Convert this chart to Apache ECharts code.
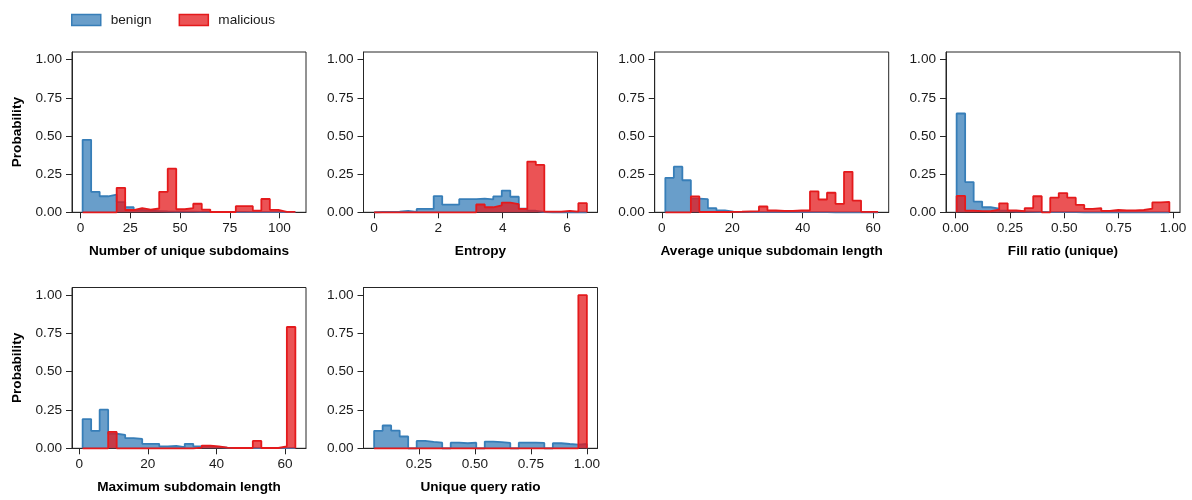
<!DOCTYPE html>
<html>
<head>
<meta charset="utf-8">
<script src="https://cdn.jsdelivr.net/npm/echarts@6/dist/echarts.min.js"></script>
<style>
html,body{margin:0;padding:0;background:#ffffff;}
#chart{width:1192px;height:500px;}
</style>
</head>
<body>
<div id="chart"></div>
<script>
// ---------------- data ----------------
const seriesNames = ['benign', 'malicious'];
const xTitles = [
  'Number of unique subdomains',
  'Entropy',
  'Average unique subdomain length',
  'Fill ratio (unique)',
  'Maximum subdomain length',
  'Unique query ratio'
];
// histogram range (first edge, last edge) per panel; 25 equal bins each
const binRanges = [[1, 108], [0, 6.62], [1, 61.4], [0.005, 0.983], [1, 63], [0.05, 1.0]];
const xTickValues = [
  [0, 25, 50, 75, 100],
  [0, 2, 4, 6],
  [0, 20, 40, 60],
  [0, 0.25, 0.5, 0.75, 1],
  [0, 20, 40, 60],
  [0.25, 0.5, 0.75, 1]
];
const xTickDecimals = [0, 0, 0, 2, 0, 2];
const yTickValues = [0, 0.25, 0.5, 0.75, 1];

const benignUniqueSubdomains = [0.475,0.134,0.105,0.116,0.067,0.033,0.015,0.010,0.008,0.006,0.005,0.004,0.004,0.003,0.003,0.002,0.002,0.002,0.002,0.001,0.001,0.001,0.001,0.001,0.001];
const maliciousUniqueSubdomains = [0,0,0,0,0.160,0.015,0.027,0.018,0.025,0.134,0.286,0.020,0.027,0.056,0.018,0.002,0.002,0.002,0.040,0.040,0.011,0.087,0.016,0.003,0.003];

const benignEntropy = [0.002,0.002,0.004,0.009,0.003,0.022,0.022,0.106,0.050,0.050,0.086,0.086,0.090,0.084,0.104,0.142,0.102,0.024,0.010,0.002,0,0,0,0,0];
const maliciousEntropy = [0,0,0,0,0,0,0,0,0,0,0,0,0.051,0.033,0.046,0.064,0.053,0.022,0.332,0.310,0.004,0.004,0.009,0.004,0.060];

const benignAvgLength = [0.226,0.299,0.210,0.090,0.086,0.027,0.013,0.005,0.003,0.002,0.001,0.001,0.001,0.001,0.001,0.001,0.001,0.001,0.001,0,0,0,0,0,0];
const maliciousAvgLength = [0,0,0,0.104,0.002,0.002,0.002,0.003,0.004,0.006,0.008,0.038,0.013,0.009,0.009,0.013,0.013,0.137,0.084,0.128,0.055,0.265,0.077,0.003,0.003];

const benignFillRatio = [0.647,0.198,0.070,0.033,0.024,0.010,0.005,0.004,0.003,0.002,0.001,0.001,0.001,0.001,0,0,0,0,0,0,0,0,0,0,0];
const maliciousFillRatio = [0.107,0.011,0.008,0.007,0.017,0.059,0.013,0.007,0.028,0.105,0,0.096,0.126,0.096,0.048,0.022,0.028,0.009,0.015,0.013,0.012,0.015,0.024,0.065,0.068];

const benignMaxLength = [0.191,0.114,0.252,0.095,0.088,0.066,0.061,0.029,0.029,0.013,0.015,0.007,0.029,0.013,0.012,0.008,0.004,0.003,0.002,0.002,0.001,0.001,0.001,0.001,0.002];
const maliciousMaxLength = [0,0,0,0.107,0,0,0,0,0,0,0,0,0,0.004,0.018,0.013,0.004,0.002,0.002,0.002,0.048,0.002,0.002,0.013,0.792];

const benignQueryRatio = [0.114,0.149,0.116,0.077,0,0.048,0.042,0.037,0,0.037,0.033,0.037,0,0.044,0.040,0.035,0,0.037,0.037,0.035,0,0.033,0.028,0.024,0.028];
const maliciousQueryRatio = [0,0,0,0,0,0,0,0,0,0,0,0,0,0,0,0,0,0,0,0,0,0,0,0,1.0];

const benignPanels = [benignUniqueSubdomains, benignEntropy, benignAvgLength, benignFillRatio, benignMaxLength, benignQueryRatio];
const maliciousPanels = [maliciousUniqueSubdomains, maliciousEntropy, maliciousAvgLength, maliciousFillRatio, maliciousMaxLength, maliciousQueryRatio];

// ---------------- layout / style ----------------
const FONT = '"Liberation Sans", Arial, Helvetica, sans-serif';
const TEXT = '#1a1a1a';
const SPINE = '#262626';
const FS = 13.6;
const BLUE = '#377eb8', BLUE_FILL = 'rgba(55,126,184,0.75)';
const RED = '#e41a1c', RED_FILL = 'rgba(228,26,28,0.75)';
const gridLefts = [72, 363.5, 654.7, 946, 72, 363.5];
const gridTops = [52, 52, 52, 52, 287.5, 287.5];
const gridHeights = [160.3, 160.3, 160.3, 160.3, 160.8, 160.8];
const GRID_W = 234;

function stepPoints(vals, lo, hi) {
  const w = (hi - lo) / vals.length;
  const pts = [[lo, 0]];
  vals.forEach((v, i) => { pts.push([lo + i * w, v]); pts.push([lo + (i + 1) * w, v]); });
  pts.push([hi, 0]);
  return pts;
}

const grids = [], xAxes = [], yAxes = [], series = [];
for (let i = 0; i < 6; i++) {
  const [lo, hi] = binRanges[i];
  const pad = 0.05 * (hi - lo);
  grids.push({
    left: gridLefts[i], top: gridTops[i], width: GRID_W, height: gridHeights[i],
    show: true, borderColor: SPINE, borderWidth: 1, containLabel: false
  });
  const dec = xTickDecimals[i];
  xAxes.push({
    type: 'value', gridIndex: i, min: lo - pad, max: hi + pad,
    axisLine: { show: true, onZero: false, lineStyle: { color: SPINE, width: 1 } },
    axisTick: { show: true, length: 6, customValues: xTickValues[i], lineStyle: { color: SPINE, width: 1 } },
    axisLabel: { customValues: xTickValues[i], formatter: v => Number(v).toFixed(dec), fontSize: FS, color: TEXT, fontFamily: FONT, margin: 9 },
    splitLine: { show: false },
    name: xTitles[i], nameLocation: 'middle', nameGap: 32,
    nameTextStyle: { fontWeight: 'bold', fontSize: FS, color: '#000', fontFamily: FONT }
  });
  yAxes.push({
    type: 'value', gridIndex: i, min: 0, max: 1.05,
    axisLine: { show: true, onZero: false, lineStyle: { color: SPINE, width: 1 } },
    axisTick: { show: true, length: 6, customValues: yTickValues, lineStyle: { color: SPINE, width: 1 } },
    axisLabel: { customValues: yTickValues, formatter: v => Number(v).toFixed(2), fontSize: FS, color: TEXT, fontFamily: FONT, margin: 10 },
    splitLine: { show: false },
    name: (i % 4 === 0) ? 'Probability' : '', nameLocation: 'middle', nameGap: 48,
    nameTextStyle: { fontWeight: 'bold', fontSize: FS, color: '#000', fontFamily: FONT }
  });
  series.push({
    type: 'line', name: seriesNames[0], xAxisIndex: i, yAxisIndex: i,
    data: stepPoints(benignPanels[i], lo, hi),
    symbol: 'none', showSymbol: false, clip: false, animation: false, silent: true, z: 2,
    lineStyle: { color: BLUE, width: 1.8 }, itemStyle: { color: BLUE },
    areaStyle: { color: BLUE_FILL, opacity: 1, origin: 'start' }
  });
  series.push({
    type: 'line', name: seriesNames[1], xAxisIndex: i, yAxisIndex: i,
    data: stepPoints(maliciousPanels[i], lo, hi),
    symbol: 'none', showSymbol: false, clip: false, animation: false, silent: true, z: 3,
    lineStyle: { color: RED, width: 1.8 }, itemStyle: { color: RED },
    areaStyle: { color: RED_FILL, opacity: 1, origin: 'start' }
  });
}

const chart = echarts.init(document.getElementById('chart'), null, { renderer: 'canvas' });
chart.setOption({
  animation: false,
  backgroundColor: '#ffffff',
  textStyle: { fontFamily: FONT },
  legend: {
    left: 71, top: 13, padding: 0, itemWidth: 29, itemHeight: 11, itemGap: 27,
    selectedMode: false,
    textStyle: { fontSize: FS, color: TEXT, fontFamily: FONT, padding: [0, 0, 0, 5] },
    data: [
      { name: seriesNames[0], icon: 'rect', itemStyle: { color: BLUE_FILL, borderColor: BLUE, borderWidth: 1.5 } },
      { name: seriesNames[1], icon: 'rect', itemStyle: { color: RED_FILL, borderColor: RED, borderWidth: 1.5 } }
    ]
  },
  grid: grids,
  xAxis: xAxes,
  yAxis: yAxes,
  series: series
});
</script>
</body>
</html>
